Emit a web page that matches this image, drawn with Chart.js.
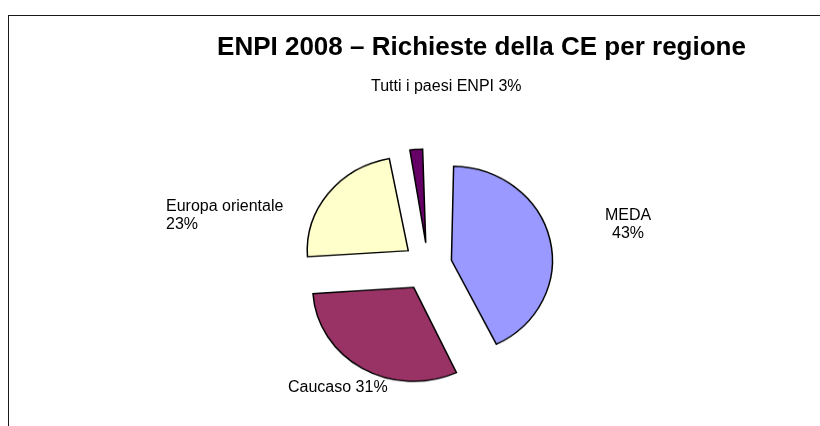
<!DOCTYPE html>
<html lang="it">
<head>
    <meta charset="UTF-8">
    <title>ENPI 2008 – Richieste della CE per regione</title>
    <script src="https://cdn.jsdelivr.net/npm/chart.js"></script>
    <style>
        html, body { margin: 0; padding: 0; background: #fff; }
        body { width: 820px; height: 426px; position: relative; overflow: hidden;
               font-family: Arial, "Liberation Sans", sans-serif; color: #000; }
        .frame { position: absolute; left: 8px; top: 15px; width: 900px; height: 500px;
                 border-left: 1.5px solid #1a1a1a; border-top: 1.5px solid #1a1a1a; }
        .chart-box { position: absolute; left: 0; top: 0; width: 820px; height: 458px;
                     transform: scaleY(0.93); transform-origin: 0 0; }
        .title { position: absolute; left: 0; width: 963px; top: 31px; text-align: center;
                 font-weight: bold; font-size: 26px; line-height: 30px; }
        .lbl { position: absolute; font-size: 16px; line-height: 18px; white-space: nowrap; }
    </style>
</head>
<body>
    <div class="frame"></div>
    <div class="chart-box">
        <canvas id="pieChart" width="820" height="458"></canvas>
    </div>
    <div class="title">ENPI 2008 – Richieste della CE per regione</div>
    <div class="lbl" style="left:371px; top:77px;">Tutti i paesi ENPI 3%</div>
    <div class="lbl" style="left:166px; top:197px;">Europa orientale<br>23%</div>
    <div class="lbl" style="left:588px; top:206px; width:80px; text-align:center;">MEDA<br>43%</div>
    <div class="lbl" style="left:288px; top:378px;">Caucaso 31%</div>

    <script>
        // dati
        const regioni = ['MEDA', 'Caucaso', 'Europa orientale', 'Tutti i paesi ENPI'];
        const percentuali = [43, 31, 23, 3];
        const colori = ['#9999FF', '#993366', '#FFFFCC', '#660066'];
        const esplosione = [96, 112, 100, 96];
        const raggio = 101;

        // Chart.js allarga le fette esplose: riporto il raggio al valore comune
        const radiusFix = {
            id: 'radiusFix',
            afterDatasetUpdate(chart, args) {
                const meta = chart.getDatasetMeta(args.index);
                meta.data.forEach((arc, i) => {
                    const off = esplosione[i] / 4;
                    const circ = arc.endAngle - arc.startAngle;
                    const fix = 1 - Math.sin(Math.min(Math.PI, circ));
                    arc.outerRadius = raggio - off * fix;
                });
            }
        };

        const ctx = document.getElementById('pieChart').getContext('2d');
        new Chart(ctx, {
            type: 'pie',
            data: {
                labels: regioni,
                datasets: [{
                    data: percentuali,
                    backgroundColor: colori,
                    borderColor: '#000',
                    borderWidth: 1.5,
                    borderJoinStyle: 'miter',
                    offset: esplosione
                }]
            },
            options: {
                responsive: false,
                animation: false,
                radius: raggio,
                layout: { padding: { left: 50, right: 14, top: 130, bottom: 18 } },
                plugins: {
                    legend: { display: false },
                    tooltip: { enabled: false }
                }
            },
            plugins: [radiusFix]
        });
    </script>
</body>
</html>
